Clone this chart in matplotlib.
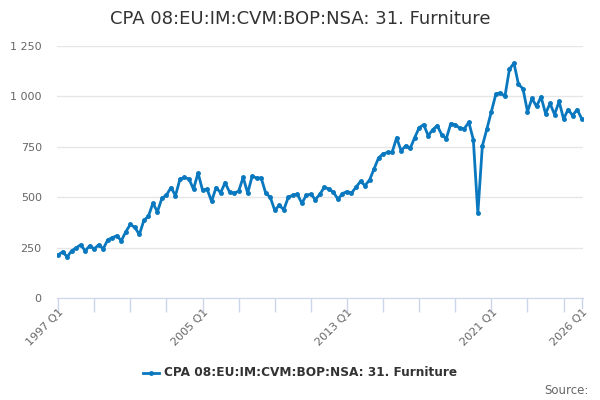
import matplotlib
matplotlib.use("Agg")
import matplotlib.pyplot as plt
import numpy as np

title = "CPA 08:EU:IM:CVM:BOP:NSA: 31. Furniture"

# quarterly values, 1997 Q1 .. 2026 Q1
values = [
    214, 229, 204, 234, 249, 264, 234, 259, 244, 264,
    244, 289, 299, 309, 284, 329, 365, 350, 315, 385,
    405, 470, 428, 495, 510, 548, 508, 590, 598, 590,
    540, 620, 535, 540, 480, 548, 522, 572, 525, 520,
    530, 598, 520, 605, 595, 595, 520, 500, 435, 460,
    438, 500, 510, 515, 470, 510, 515, 488, 515, 550,
    540, 525, 490, 518, 528, 520, 550, 578, 558, 585,
    640, 695, 715, 722, 722, 795, 730, 755, 742, 795,
    845, 860, 805, 835, 855, 810, 790, 865, 860, 842,
    840, 872, 785, 420, 755, 838, 925, 1012, 1018, 1000,
    1135, 1165, 1060, 1038, 925, 990, 950, 998, 915, 965,
    910, 975, 888, 935, 905, 935, 890,
]
quarters = ["%d Q%d" % (1997 + k // 4, k % 4 + 1) for k in range(len(values))]
label_pos = [0, 32, 64, 96, 116]
y_ticks = [0, 250, 500, 750, 1000, 1250]
y_labels = ["0", "250", "500", "750", "1 000", "1 250"]

fig = plt.figure(figsize=(6, 4), dpi=100)
ax = fig.add_axes([57 / 600, 1 - 298 / 400, 526 / 600, 252 / 400])

x = np.arange(len(values))
ax.plot(x, values, color="#0a78bf", lw=2, marker="o", ms=2.5, zorder=3)

ax.set_xlim(-0.25, 116.3)
ax.set_ylim(0, 1250)

ax.set_yticks(y_ticks)
ax.set_yticklabels(y_labels, color="#666666", fontsize=8)
ax.yaxis.grid(True, color="#e6e6e6", lw=1)
ax.tick_params(axis="y", length=0, pad=11)

ax.set_xticks(np.arange(0, len(values), 8), minor=False)
ax.set_xticklabels([])
ax.tick_params(axis="x", which="major", length=10, color="#ccd6eb", width=1)
for p in label_pos:
    ax.text(p + 0.1, -45, quarters[p], rotation=45, ha="right", va="top",
            rotation_mode="anchor", color="#666666", fontsize=8)
# last tick at the final quarter
ax.plot([116, 116], [0, -50], color="#ccd6eb", lw=1, clip_on=False)

for s in ["top", "right", "left"]:
    ax.spines[s].set_visible(False)
ax.spines["bottom"].set_color("#ccd6eb")
ax.set_axisbelow(True)

fig.text(0.5, 1 - 19 / 400, title, ha="center", va="center", fontsize=13, color="#333333")

# legend
fig.add_artist(plt.Line2D([143 / 600, 159 / 600], [1 - 373 / 400] * 2, color="#0a78bf", lw=2,
                          transform=fig.transFigure))
fig.add_artist(plt.Line2D([151 / 600], [1 - 373 / 400], color="#0a78bf", marker="o", ms=2.5,
                          transform=fig.transFigure))
fig.text(164 / 600, 1 - 373 / 400, title, ha="left", va="center", fontsize=8.7,
         fontweight="bold", color="#333333")
fig.text(589 / 600, 1 - 390 / 400, "Source:", ha="right", va="center", fontsize=8.5, color="#666666")

fig.savefig("out.png", dpi=100)
